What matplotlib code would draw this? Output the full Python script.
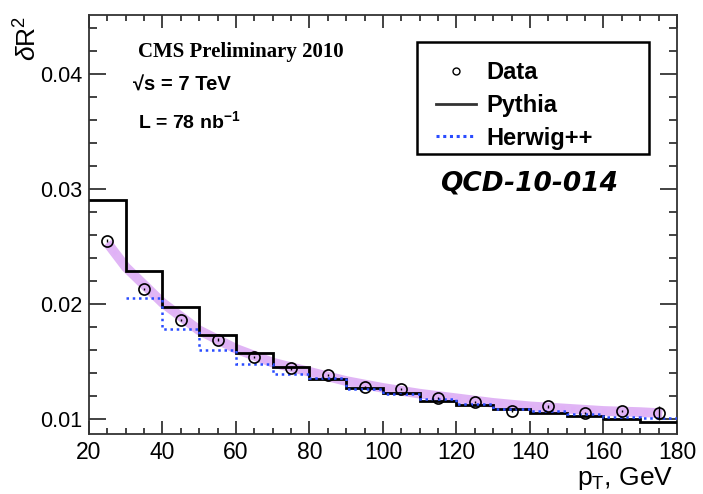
import numpy as np
import matplotlib.pyplot as plt
from matplotlib.ticker import MultipleLocator
from matplotlib.patches import Rectangle

plt.rcParams['font.family'] = ['Liberation Sans', 'DejaVu Sans']
plt.rcParams['mathtext.fontset'] = 'custom'
plt.rcParams['mathtext.rm'] = 'Liberation Sans'
plt.rcParams['mathtext.bf'] = 'Liberation Sans:bold'
plt.rcParams['mathtext.it'] = 'Liberation Sans:italic'

# bins and values
pt_edges = [20, 30, 40, 50, 60, 70, 80, 90, 100, 110, 120, 130, 140, 150, 160, 170, 180]
pt_centers = [25, 35, 45, 55, 65, 75, 85, 95, 105, 115, 125, 135, 145, 155, 165, 175]
data_r2 = [0.0255, 0.0213, 0.0186, 0.0169, 0.0154, 0.0144, 0.0138, 0.0128, 0.0126,
           0.0118, 0.0115, 0.0107, 0.0111, 0.0105, 0.0107, 0.0105]
data_err = [0.0001] * 15 + [0.0006]
pythia_r2 = [0.0290, 0.0229, 0.0197, 0.0173, 0.0157, 0.0145, 0.0135, 0.0127, 0.0123,
             0.0116, 0.0112, 0.0109, 0.0105, 0.0103, 0.0100, 0.0097]
herwig_edges = pt_edges[1:]
herwig_r2 = [0.0205, 0.0178, 0.0160, 0.0148, 0.0139, 0.0136, 0.0126, 0.0122,
             0.0117, 0.0113, 0.0109, 0.0107, 0.0104, 0.0102, 0.0101]
band_pt = [25, 30, 40, 50, 60, 70, 80, 90, 100, 110, 120, 130, 140, 150, 160, 170, 176]
band_r2 = [0.0253, 0.0232, 0.0201, 0.0177, 0.0161, 0.0149, 0.0141, 0.0133, 0.0127,
           0.0122, 0.0118, 0.0114, 0.0111, 0.0109, 0.0107, 0.0106, 0.0105]

fig = plt.figure(figsize=(7.03, 4.94), dpi=100)
ax = fig.add_axes([0.1266, 0.1215, 0.8364, 0.8481])

# fit band
ax.plot(band_pt, band_r2, color='#c878ee', lw=7, alpha=0.55, solid_capstyle='butt', zorder=2)
ax.plot(band_pt, band_r2, color='#e0b0f8', lw=3, ls=(0, (1, 1.5)), alpha=0.8, zorder=2)

# pythia histogram
ax.stairs(pythia_r2, pt_edges, baseline=None, color='black', lw=2, zorder=3)
# herwig histogram
ax.stairs(herwig_r2, herwig_edges, baseline=None, color='#2a4cff', lw=1.8,
          ls=(0, (1, 1.5)), zorder=3)

ax.errorbar(pt_centers, data_r2, yerr=data_err, fmt='o', mfc='none', mec='black',
            ecolor='black', ms=8, mew=1.2, elinewidth=1, zorder=4)

ax.set_xlim(20, 180)
ax.set_ylim(0.0087, 0.0451)
ax.xaxis.set_major_locator(MultipleLocator(20))
ax.xaxis.set_minor_locator(MultipleLocator(5))
ax.yaxis.set_major_locator(MultipleLocator(0.01))
ax.yaxis.set_minor_locator(MultipleLocator(0.002))
ax.tick_params(which='both', direction='in', top=True, right=True,
               width=1.2, pad=5, colors='#222222', labelcolor='black')
ax.tick_params(axis='x', labelsize=16.5, pad=5)
ax.tick_params(axis='y', labelsize=15.5)
ax.tick_params(axis='y', which='major', length=12.5)
ax.tick_params(axis='y', which='minor', length=6)
ax.tick_params(axis='x', which='major', length=9.5)
ax.tick_params(axis='x', which='minor', length=4.5)
ax.yaxis.set_major_formatter(plt.FuncFormatter(lambda v, p: f'{v:.2f}'))
for s in ax.spines.values():
    s.set_linewidth(1.3)
    s.set_color('#333333')

fig.text(0.04, 0.967, r'$\delta$R$^2$', rotation=90, fontsize=19, ha='center', va='top')
fig.text(0.958, 0.018, r'p$_{\mathrm{T}}$, GeV', fontsize=19, ha='right', va='baseline')

ax.text(0.083, 0.912, 'CMS Preliminary 2010', family='Liberation Serif', weight='bold',
        fontsize=15, transform=ax.transAxes, va='center')
ax.text(0.075, 0.833, '√s = 7 TeV', weight='bold', fontsize=14.5,
        transform=ax.transAxes, va='center')
ax.text(0.083, 0.747, r'L = 78 nb$^{\mathbf{-1}}$', weight='bold', fontsize=14,
        transform=ax.transAxes, va='center')

ax.text(0.597, 0.599, 'QCD-10-014', transform=ax.transAxes, weight='bold', style='italic',
        family='DejaVu Sans', fontsize=19, va='center')

ax.add_patch(Rectangle((0.558, 0.668), 0.394, 0.267, transform=ax.transAxes, fill=False,
                       ec='black', lw=1.8, zorder=5))
leg = ax.legend([plt.Line2D([], [], ls='none', marker='o', mfc='none', mec='black', ms=5),
                 plt.Line2D([], [], color='#333333', lw=2),
                 plt.Line2D([], [], color='#2a4cff', lw=2.2, ls=(0, (1, 1.2)))],
                ['Data', 'Pythia', 'Herwig++'],
                loc='upper left', bbox_to_anchor=(0.562, 0.93), frameon=False,
                prop={'weight': 'bold', 'size': 17}, handlelength=1.7, handletextpad=0.45,
                borderpad=0.2, labelspacing=0.42)

fig.savefig('out.png', dpi=100)
